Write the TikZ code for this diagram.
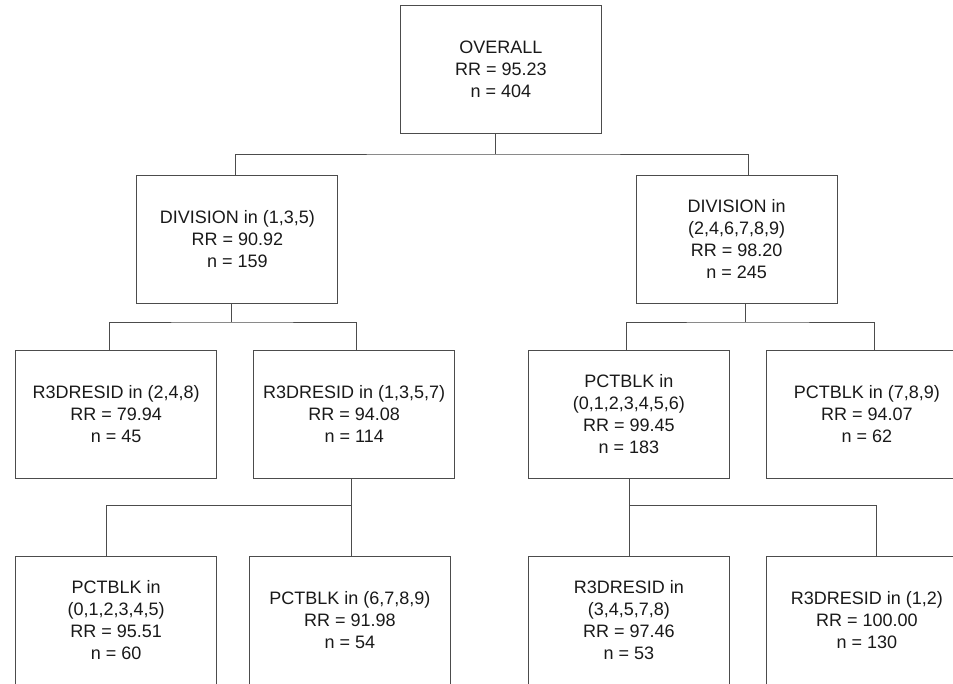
\documentclass[tikz,border=0pt]{standalone}
\usepackage{fontspec}
\setmainfont{Liberation Sans}
\begin{document}
\begin{tikzpicture}[x=1pt,y=-1pt,
  treebox/.style={draw=black!70, line width=1pt, minimum width=201pt, minimum height=128pt,
    inner sep=0pt, align=center, text=black!90, font=\fontsize{18}{22}\selectfont},
  conn/.style={draw=black!70, line width=1pt}]
\useasboundingbox (0,0) rectangle (953,683);
\node[treebox] (root) at (500.8,69.8) {OVERALL\\RR = 95.23\\n = 404};
\node[treebox] (divL) at (237.3,239.5) {DIVISION in (1,3,5)\\RR = 90.92\\n = 159};
\node[treebox] (divR) at (736.7,239.5) {DIVISION in\\(2,4,6,7,8,9)\\RR = 98.20\\n = 245};
\node[treebox] (A) at (116.2,414) {R3DRESID in (2,4,8)\\RR = 79.94\\n = 45};
\node[treebox] (B) at (354.2,414) {R3DRESID in (1,3,5,7)\\RR = 94.08\\n = 114};
\node[treebox] (E) at (628.8,414) {PCTBLK in\\(0,1,2,3,4,5,6)\\RR = 99.45\\n = 183};
\node[treebox] (F) at (866.8,414) {PCTBLK in (7,8,9)\\RR = 94.07\\n = 62};
\node[treebox] (C) at (116.2,620) {PCTBLK in\\(0,1,2,3,4,5)\\RR = 95.51\\n = 60};
\node[treebox] (D) at (349.8,620) {PCTBLK in (6,7,8,9)\\RR = 91.98\\n = 54};
\node[treebox] (G) at (628.8,620) {R3DRESID in\\(3,4,5,7,8)\\RR = 97.46\\n = 53};
\node[treebox] (H) at (866.8,620) {R3DRESID in (1,2)\\RR = 100.00\\n = 130};
\coordinate (j0) at (495,154);
\coordinate (j1) at (231.3,322);
\coordinate (j2) at (745.7,322);
\coordinate (j3) at (351.3,505);
\coordinate (j4) at (629.3,505);
\draw[conn] (root.south -| j0) -- (j0);
\draw[conn] ([xshift=-2.3pt]divL.north) |- (j0) -| ([xshift=11.3pt]divR.north);
\draw[conn] (divL.south -| j1) -- (j1);
\draw[conn] ([xshift=-6.5pt]A.north) |- (j1) -| ([xshift=2.1pt]B.north);
\draw[conn] (divR.south -| j2) -- (j2);
\draw[conn] ([xshift=-2.1pt]E.north) |- (j2) -| ([xshift=7.2pt]F.north);
\draw[conn] (B.south -| j3) -- (j3);
\draw[conn] ([xshift=-9.5pt]C.north) |- (j3) -- (D.north -| j3);
\draw[conn] (E.south -| j4) -- (j4);
\draw[conn] (G.north -| j4) -- (j4) -| ([xshift=9.5pt]H.north);
\end{tikzpicture}
\end{document}
